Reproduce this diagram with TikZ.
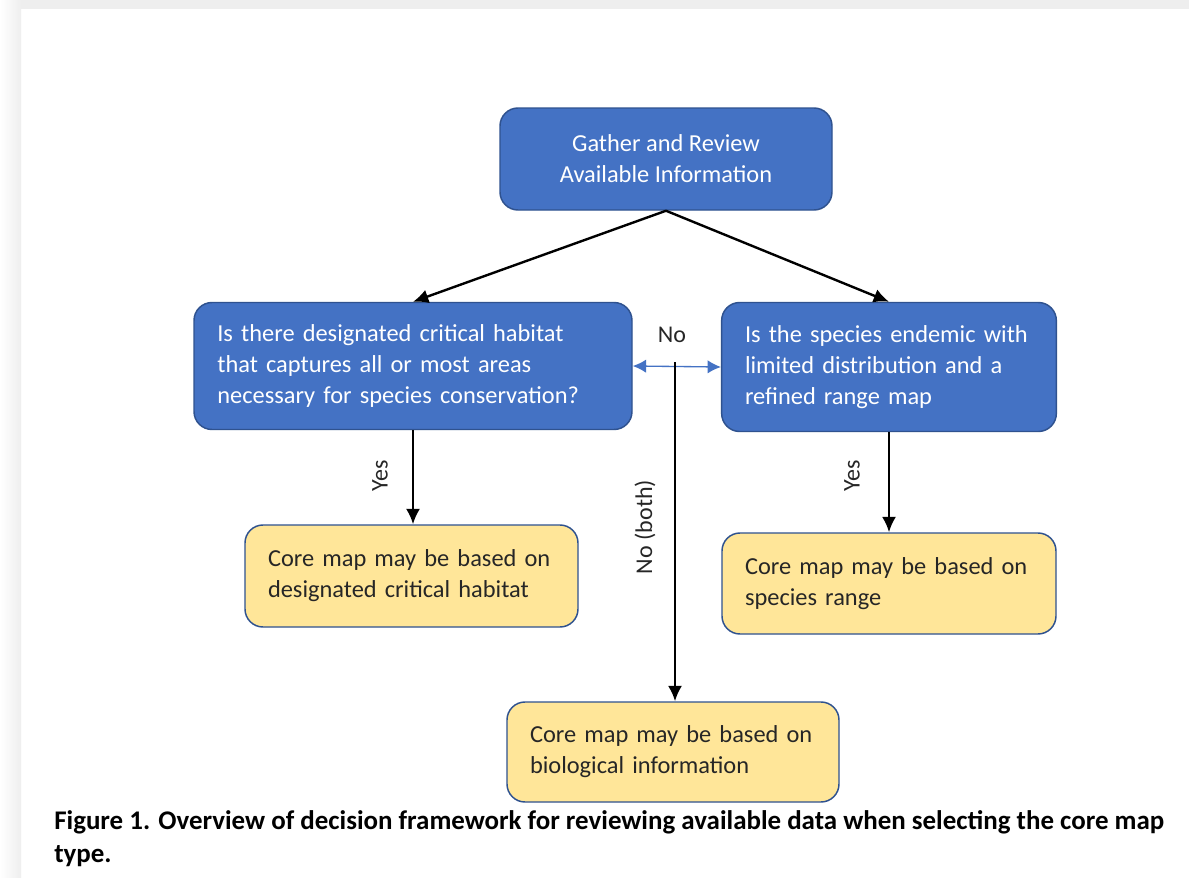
\documentclass[tikz,border=0pt]{standalone}
\usepackage{fontspec}
\setmainfont{Carlito}
\usetikzlibrary{arrows}
\usetikzlibrary{arrows.meta}
\usetikzlibrary{shapes}

\definecolor{boxblue}{HTML}{4472C4}
\definecolor{edgeblue}{HTML}{2F528F}
\definecolor{boxyellow}{HTML}{FFE699}
\definecolor{pagegray}{HTML}{EEEEEE}
\definecolor{inkgray}{HTML}{262626}

\begin{document}
\begin{tikzpicture}[>={Latex[length=11.5pt,width=10.5pt]}, x=0.75pt, y=-0.75pt]
        \tikzstyle{question} = [draw=edgeblue, fill=boxblue, line width=1.1pt, rounded corners=13.5pt, text=white, inner xsep=17.5pt, font=\fontsize{18.3}{23.25}\selectfont]
        \tikzstyle{outcome} = [draw=edgeblue, fill=boxyellow, line width=1.1pt, rounded corners=13.5pt, text=inkgray, inner xsep=17.25pt, align=left, font=\fontsize{18.3}{23.25}\selectfont]
        \tikzstyle{link} = [->, line width=1.8pt]
        \tikzstyle{tag} = [inner sep=0pt, text=inkgray, font=\fontsize{18}{20}\selectfont]

        % page and frame
        \useasboundingbox (0,0) rectangle (1189,878);
        \fill[white] (0,0) rectangle (1189,878);
        \shade[left color=white, right color=pagegray] (0,0) rectangle (21,878);
        \fill[pagegray] (21,0) rectangle (1189,9);

        % boxes
        \node[question, minimum width=249pt, minimum height=76.5pt, align=center] (gather) at (666,159) {Gather and Review\\Available Information};
        \node[question, minimum width=328.5pt, minimum height=95.25pt, text width=293.5pt, align=left] (habitat) at (413,366) {Is there designated critical habitat\\that captures all or most areas\\necessary for species conservation?};
        \node[question, minimum width=250.5pt, minimum height=96.75pt, text width=216pt, align=left] (endemic) at (889,367) {Is the species endemic with\\limited distribution and a\\refined range map};
        \node[outcome, minimum width=249.75pt, minimum height=76.5pt, text width=215.25pt] (critical) at (411.5,576) {Core map may be based on\\designated critical habitat};
        \node[outcome, minimum width=250.5pt, minimum height=75.75pt, text width=216pt] (range) at (889,583.5) {Core map may be based on\\species range};
        \node[outcome, minimum width=249pt, minimum height=75pt, text width=214.5pt] (biology) at (673,752) {Core map may be based on\\biological information};

        % labels
        \node[tag] (nolabel) at (672,335) {No};
        \node[tag, rotate=90] (noboth) at (645,527) {No (both)};
        \node[tag, rotate=90] (yesleft) at (380,476) {Yes};
        \node[tag, rotate=90] (yesright) at (852,476) {Yes};
        \coordinate (split) at (675,362);

        % connectors
        \draw[link] (gather.south) -- (habitat.north);
        \draw[link] (gather.south) -- (endemic.north);
        \draw[{Latex[length=10pt,width=10pt]}-{Latex[length=10pt,width=10pt]}, boxblue, line width=1pt] (habitat.east) -- (endemic.west);
        \draw[link] (split) -- (split |- biology.north);
        \draw[link] (habitat.south) -- (habitat.south |- critical.north);
        \draw[link] (endemic.south) -- (endemic.south |- range.north);

        % caption
        \node[anchor=north west, inner sep=0pt, align=left, font=\bfseries\fontsize{20.2}{24.75}\selectfont] (caption) at (54,810) {Figure 1. Overview of decision framework for reviewing available data when selecting the core map\\type.};
\end{tikzpicture}
\end{document}
